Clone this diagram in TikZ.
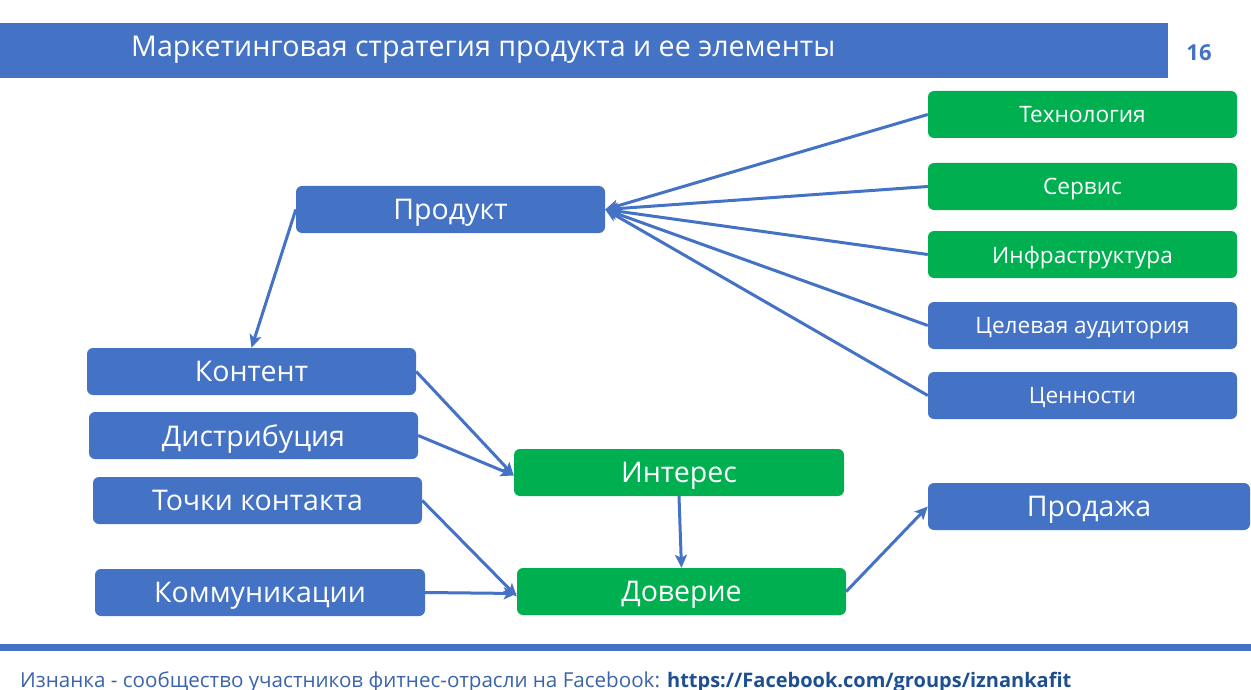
\documentclass[tikz,border=0pt]{standalone}
\usepackage{fontspec}
\setmainfont{Open Sans}
\usetikzlibrary{arrows.meta}
\definecolor{bl}{HTML}{4472C4}
\definecolor{gr}{HTML}{00B050}
\definecolor{foot}{HTML}{3B64AD}
\definecolor{url}{HTML}{1D4F91}
\newcommand{\fsz}[1]{\fontsize{#1}{#1}\selectfont}
\begin{document}
\begin{tikzpicture}[x=1pt,y=-1pt,
  box/.style={rounded corners=6pt, inner sep=0pt, text=white, minimum height=47pt, minimum width=309pt, text depth=0pt},
  bbox/.style={box, fill=bl},
  gbox/.style={box, fill=gr},
  small/.style={font=\fsz{22.6}},
  big/.style={font=\fsz{28.5}},
  arr/.style={draw=bl, line width=3pt, -{Stealth[length=13pt,width=12pt,inset=3pt]}}
]
\useasboundingbox (0,0) rectangle (1251,690);
\fill[white] (0,0) rectangle (1251,690);
% header
\fill[bl] (0,23) rectangle (1168,78);
\node[anchor=base west, text=white, inner sep=0pt] (title) at (131,57) {\fsz{28.6}Маркетинговая стратегия продукта и ее элементы};
\node[text=bl, inner sep=0pt, font=\bfseries] (num) at (1199,53) {\fsz{22}16};
% footer
\fill[bl] (0,644) rectangle (1251,651);
\node[anchor=base west, inner sep=0pt, text=foot] (foot) at (20,687) {\fsz{20.6}Изнанка - сообщество участников фитнес-отрасли на Facebook: \textcolor{url}{\fsz{20}\bfseries https://Facebook.com/groups/iznankafit}};
% right column
\node[gbox, small] (tech) at (1082.5,114.5) {Технология};
\node[gbox, small] (serv) at (1082.5,186.5) {Сервис};
\node[gbox, small] (infra) at (1082.5,254.5) {Инфраструктура};
\node[bbox, small] (cel) at (1082.5,325.5) {Целевая аудитория};
\node[bbox, small] (cen) at (1082.5,395.5) {Ценности};
\node[bbox, big, minimum width=322pt] (sale) at (1089,506.5) {Продажа};
% product
\node[bbox, big] (prod) at (450.5,209.5) {Продукт};
% left column
\node[bbox, big, minimum width=329pt] (kont) at (251.5,371.5) {Контент};
\node[bbox, big, minimum width=329pt] (dist) at (253.5,435.5) {Дистрибуция};
\node[bbox, big, minimum width=329pt] (toch) at (257.5,500.5) {Точки контакта};
\node[bbox, big, minimum width=330pt] (komm) at (260,592.5) {Коммуникации};
% middle
\node[gbox, big, minimum width=330pt] (inter) at (679,472.5) {Интерес};
\node[gbox, big, minimum width=329pt] (dov) at (681.5,591.5) {Доверие};
% connectors
\foreach \s in {tech,serv,infra,cel,cen} \draw[arr] (\s.west) -- (prod.east);
\draw[arr] (prod.west) -- (kont.north);
\draw[arr] (kont.east) -- ([yshift=-3pt]inter.west);
\draw[arr] (dist.east) -- ([yshift=-3pt]inter.west);
\draw[arr] (toch.east) -- ([yshift=-5pt]dov.west);
\draw[arr] (komm.east) -- ([yshift=-2pt]dov.west);
\draw[arr] (inter.south) -- (dov.north);
\draw[arr] (dov.east) -- (sale.west);
\end{tikzpicture}
\end{document}
